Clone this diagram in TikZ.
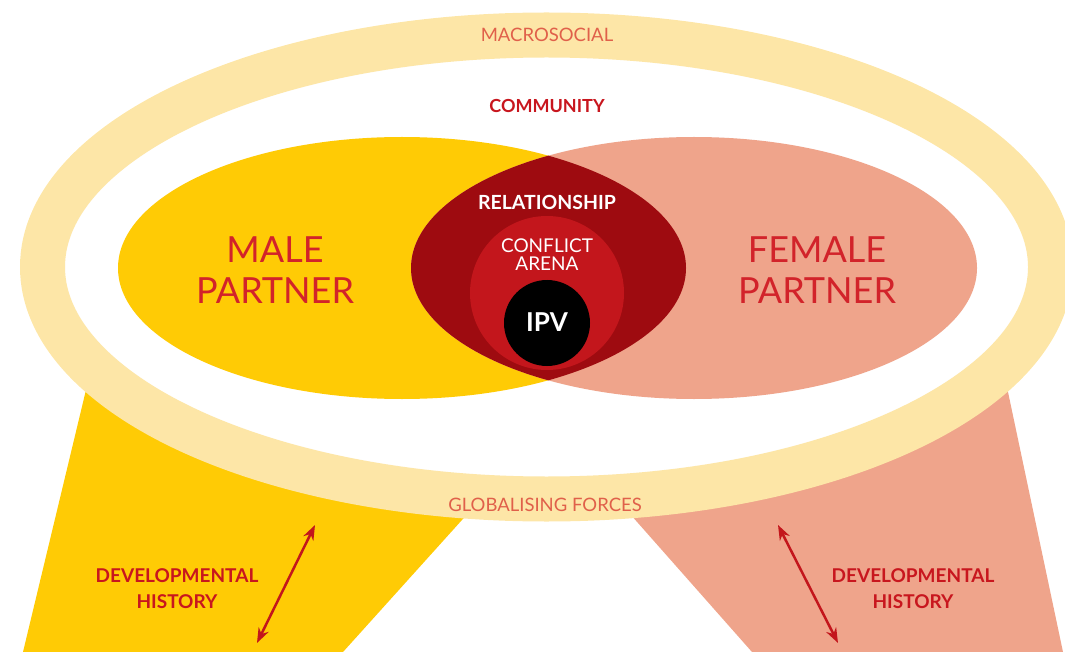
\documentclass[tikz,border=0pt]{standalone}
\usepackage{fontspec}
\setmainfont{Lato}
\usetikzlibrary{arrows.meta}
\definecolor{maleY}{HTML}{FFCB05}
\definecolor{femS}{HTML}{EFA48B}
\definecolor{ringY}{HTML}{FDE6A7}
\definecolor{relR}{HTML}{9E0B10}
\definecolor{confR}{HTML}{C3161C}
\definecolor{txtR}{HTML}{C8161E}
\definecolor{partR}{HTML}{D2232A}
\definecolor{macroR}{HTML}{E0604A}
\begin{document}
\begin{tikzpicture}[x=1pt,y=-1pt,
  lbl/.style={inner sep=0pt, anchor=base},
  ringlbl/.style={lbl, text=macroR, font=\fontsize{18.5}{20}\selectfont},
  partlbl/.style={lbl, text=partR, font=\fontsize{36}{40}\selectfont},
  devlbl/.style={lbl, text=txtR, font=\fontsize{19}{22}\selectfont\bfseries},
  devarrow/.style={draw=confR, line width=2.5pt, {Stealth[length=15pt,width=11pt]}-{Stealth[length=15pt,width=11pt]}}
]
\useasboundingbox (0,0) rectangle (1065,652);
\clip (0,0) rectangle (1065,652);
% legs
\fill[maleY] (98,340) -- (498,480) -- (343,652) -- (23,652) -- cycle;
\fill[femS] (600,480) -- (997,340) -- (1063,652) -- (752,652) -- cycle;
% ring
\draw[ringY, line width=45pt, fill=white] (546.5,267) ellipse [x radius=504pt, y radius=232pt];
% partners
\fill[maleY] (402,268) ellipse [x radius=284pt, y radius=131pt];
\fill[femS] (694,268) ellipse [x radius=283pt, y radius=131pt];
\begin{scope}
  \clip (402,268) ellipse [x radius=284pt, y radius=131pt];
  \fill[relR] (694,268) ellipse [x radius=283pt, y radius=131pt];
\end{scope}
\fill[confR] (547,293) circle [radius=77pt];
\fill[black] (547,323) circle [radius=43pt];
% labels
\node[ringlbl] (macro) at (547,42) {MACROSOCIAL};
\node[lbl, text=txtR, font=\fontsize{18}{20}\selectfont\bfseries] (comm) at (547,113) {COMMUNITY};
\node[lbl, text=white, font=\fontsize{19.5}{20}\selectfont\bfseries] (rel) at (547,210) {RELATIONSHIP};
\node[lbl, text=white, font=\fontsize{19}{20}\selectfont] (conf1) at (547,253) {CONFLICT};
\node[lbl, text=white, font=\fontsize{19}{20}\selectfont] (conf2) at (547,271) {ARENA};
\node[lbl, text=white, font=\fontsize{26}{30}\selectfont\bfseries] (ipv) at (547,331) {IPV};
\node[partlbl] (male1) at (275,263) {MALE};
\node[partlbl] (male2) at (275,303) {PARTNER};
\node[partlbl] (fem1) at (817,263) {FEMALE};
\node[partlbl] (fem2) at (817,303) {PARTNER};
\node[ringlbl] (glob) at (545,511) {GLOBALISING FORCES};
\node[devlbl] (devl1) at (177,582) {DEVELOPMENTAL};
\node[devlbl] (devl2) at (177,608) {HISTORY};
\node[devlbl] (devr1) at (913,582) {DEVELOPMENTAL};
\node[devlbl] (devr2) at (913,608) {HISTORY};
% arrows
\coordinate (la1) at (315,525);
\coordinate (la2) at (257,643);
\coordinate (ra1) at (778,525);
\coordinate (ra2) at (838,643);
\draw[devarrow] (la1) -- (la2);
\draw[devarrow] (ra1) -- (ra2);
\end{tikzpicture}
\end{document}
